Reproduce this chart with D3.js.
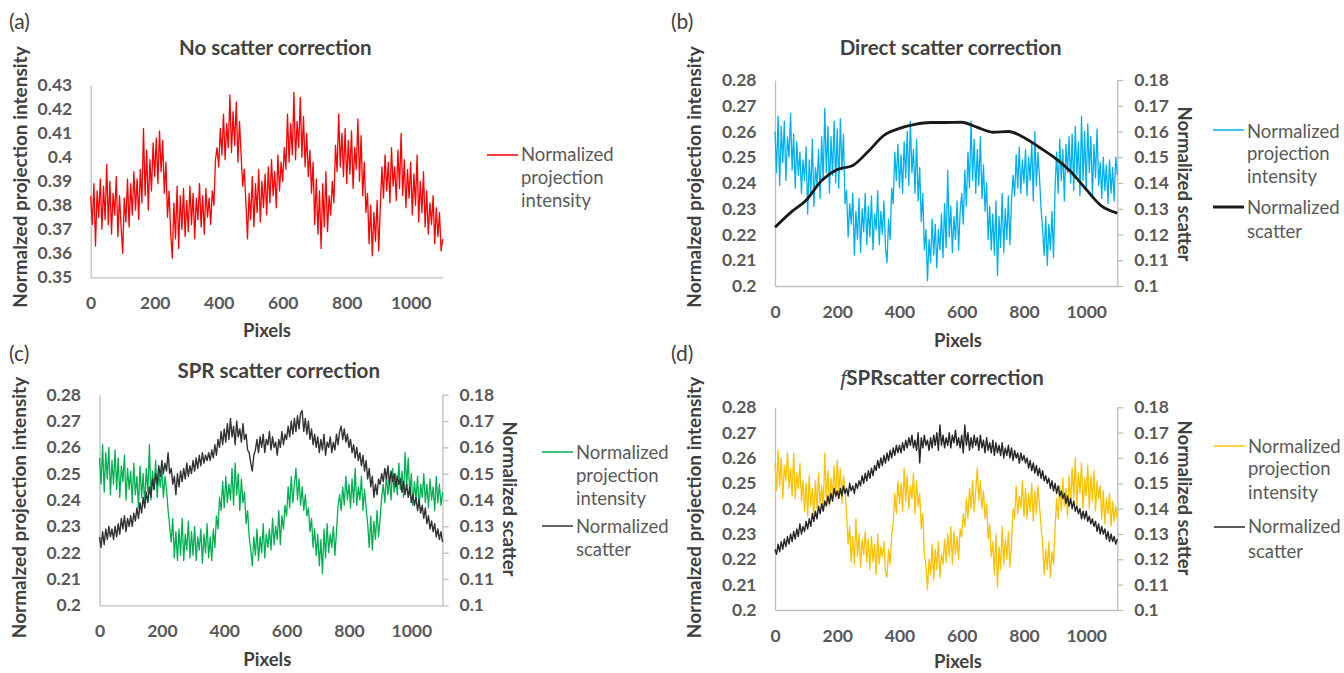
<!DOCTYPE html>
<html>
<head>
<meta charset="utf-8">
<script src="https://cdn.jsdelivr.net/npm/d3@7"></script>
<style>
	body { margin: 0; background: #fff; }
	svg text { font-family: Lato, 'Open Sans', sans-serif; }
</style>
</head>
<body>
<div id="chart"></div>
<script>
// sample positions along the detector (every 5 pixels)
var pixel_index = d3.range(0, 1101, 5);
var pixel_ticks = [0, 200, 400, 600, 800, 1000];
var intensity_ticks_a = [0.35, 0.36, 0.37, 0.38, 0.39, 0.40, 0.41, 0.42, 0.43];
var intensity_ticks = [0.20, 0.21, 0.22, 0.23, 0.24, 0.25, 0.26, 0.27, 0.28];
var scatter_ticks = [0.10, 0.11, 0.12, 0.13, 0.14, 0.15, 0.16, 0.17, 0.18];

// (a) no scatter correction
var no_corr_intensity = [
	0.384, 0.372, 0.389, 0.363, 0.386, 0.375, 0.391, 0.370, 0.388, 0.374,
	0.397, 0.372, 0.390, 0.368, 0.385, 0.376, 0.392, 0.367, 0.384, 0.371,
	0.360, 0.383, 0.373, 0.391, 0.371, 0.389, 0.376, 0.394, 0.378, 0.391,
	0.374, 0.395, 0.381, 0.412, 0.384, 0.403, 0.378, 0.399, 0.386, 0.406,
	0.392, 0.408, 0.389, 0.411, 0.394, 0.407, 0.385, 0.398, 0.375, 0.386,
	0.368, 0.358, 0.381, 0.366, 0.388, 0.362, 0.384, 0.370, 0.387, 0.367,
	0.382, 0.369, 0.388, 0.372, 0.385, 0.366, 0.383, 0.374, 0.389, 0.371,
	0.384, 0.368, 0.387, 0.375, 0.383, 0.372, 0.386, 0.380, 0.399, 0.404,
	0.396, 0.412, 0.401, 0.418, 0.399, 0.414, 0.404, 0.426, 0.402, 0.419,
	0.405, 0.423, 0.398, 0.415, 0.401, 0.388, 0.395, 0.381, 0.366, 0.385,
	0.374, 0.392, 0.371, 0.389, 0.377, 0.395, 0.373, 0.390, 0.379, 0.393,
	0.376, 0.396, 0.381, 0.399, 0.384, 0.394, 0.379, 0.401, 0.386, 0.398,
	0.390, 0.404, 0.395, 0.418, 0.398, 0.414, 0.401, 0.427, 0.399, 0.415,
	0.404, 0.425, 0.400, 0.417, 0.396, 0.410, 0.392, 0.403, 0.385, 0.398,
	0.372, 0.391, 0.368, 0.386, 0.362, 0.389, 0.371, 0.394, 0.369, 0.384,
	0.376, 0.390, 0.381, 0.405, 0.394, 0.418, 0.396, 0.410, 0.392, 0.412,
	0.389, 0.407, 0.393, 0.411, 0.387, 0.404, 0.395, 0.416, 0.390, 0.409,
	0.384, 0.398, 0.377, 0.385, 0.364, 0.380, 0.359, 0.377, 0.365, 0.382,
	0.361, 0.379, 0.396, 0.383, 0.401, 0.386, 0.398, 0.381, 0.404, 0.388,
	0.396, 0.382, 0.403, 0.387, 0.410, 0.384, 0.399, 0.379, 0.395, 0.383,
	0.398, 0.376, 0.393, 0.380, 0.401, 0.373, 0.390, 0.377, 0.394, 0.371,
	0.386, 0.368, 0.381, 0.372, 0.384, 0.364, 0.379, 0.367, 0.377, 0.361,
	0.366
];

// (b) direct scatter correction
var direct_intensity = [
	0.260, 0.244, 0.266, 0.239, 0.262, 0.248, 0.264, 0.241, 0.258, 0.250,
	0.267, 0.245, 0.259, 0.238, 0.256, 0.243, 0.252, 0.236, 0.249, 0.241,
	0.254, 0.228, 0.249, 0.236, 0.257, 0.231, 0.246, 0.239, 0.253, 0.234,
	0.258, 0.241, 0.269, 0.244, 0.262, 0.236, 0.258, 0.243, 0.264, 0.240,
	0.261, 0.238, 0.265, 0.245, 0.259, 0.232, 0.237, 0.219, 0.232, 0.224,
	0.236, 0.212, 0.229, 0.218, 0.234, 0.213, 0.230, 0.221, 0.236, 0.216,
	0.231, 0.219, 0.235, 0.214, 0.228, 0.222, 0.237, 0.216, 0.229, 0.220,
	0.233, 0.215, 0.209, 0.226, 0.218, 0.238, 0.232, 0.252, 0.241, 0.255,
	0.238, 0.251, 0.236, 0.256, 0.242, 0.260, 0.239, 0.264, 0.244, 0.253,
	0.236, 0.257, 0.233, 0.246, 0.225, 0.236, 0.214, 0.222, 0.202, 0.218,
	0.209, 0.226, 0.212, 0.224, 0.207, 0.222, 0.214, 0.228, 0.211, 0.232,
	0.215, 0.245, 0.219, 0.231, 0.213, 0.227, 0.218, 0.233, 0.214, 0.229,
	0.236, 0.224, 0.245, 0.231, 0.252, 0.238, 0.264, 0.241, 0.257, 0.236,
	0.253, 0.239, 0.258, 0.234, 0.247, 0.229, 0.240, 0.218, 0.231, 0.214,
	0.228, 0.212, 0.233, 0.204, 0.227, 0.215, 0.236, 0.213, 0.230, 0.218,
	0.235, 0.216, 0.233, 0.243, 0.235, 0.251, 0.238, 0.254, 0.236, 0.249,
	0.240, 0.253, 0.235, 0.250, 0.241, 0.256, 0.233, 0.260, 0.239, 0.252,
	0.242, 0.230, 0.222, 0.212, 0.227, 0.208, 0.224, 0.214, 0.229, 0.211,
	0.238, 0.252, 0.236, 0.257, 0.241, 0.253, 0.233, 0.255, 0.244, 0.258,
	0.240, 0.259, 0.237, 0.262, 0.243, 0.256, 0.235, 0.266, 0.241, 0.260,
	0.237, 0.263, 0.244, 0.258, 0.235, 0.255, 0.242, 0.261, 0.239, 0.248,
	0.234, 0.250, 0.237, 0.247, 0.232, 0.249, 0.236, 0.246, 0.233, 0.250,
	0.243
];
var direct_scatter_pixels = [0, 50, 100, 150, 200, 250, 300, 350, 400, 450, 500, 550,
	600, 650, 700, 750, 800, 850, 900, 950, 1000, 1050, 1100];
var direct_scatter = [0.1228, 0.1285, 0.1333, 0.1410, 0.1452, 0.1468, 0.1523, 0.1585,
	0.1612, 0.1628, 0.1635, 0.1635, 0.1636, 0.1616, 0.1597, 0.1600, 0.1577, 0.1538,
	0.1497, 0.1445, 0.1375, 0.1310, 0.1283];

// (c) SPR scatter correction
var spr_intensity = [
	0.256, 0.246, 0.261, 0.243, 0.258, 0.248, 0.260, 0.242, 0.255, 0.246,
	0.259, 0.244, 0.256, 0.241, 0.253, 0.247, 0.257, 0.240, 0.252, 0.244,
	0.251, 0.239, 0.254, 0.242, 0.249, 0.237, 0.253, 0.241, 0.250, 0.238,
	0.252, 0.243, 0.261, 0.240, 0.251, 0.244, 0.255, 0.241, 0.250, 0.245,
	0.252, 0.241, 0.249, 0.244, 0.236, 0.230, 0.224, 0.233, 0.218, 0.228,
	0.217, 0.229, 0.219, 0.233, 0.217, 0.227, 0.221, 0.232, 0.218, 0.228,
	0.219, 0.230, 0.217, 0.226, 0.221, 0.229, 0.216, 0.227, 0.220, 0.231,
	0.218, 0.226, 0.217, 0.229, 0.222, 0.234, 0.229, 0.241, 0.236, 0.247,
	0.237, 0.249, 0.239, 0.246, 0.240, 0.252, 0.238, 0.254, 0.242, 0.250,
	0.236, 0.248, 0.239, 0.243, 0.231, 0.236, 0.226, 0.221, 0.215, 0.226,
	0.219, 0.229, 0.217, 0.226, 0.220, 0.231, 0.218, 0.227, 0.222, 0.229,
	0.221, 0.233, 0.223, 0.230, 0.225, 0.236, 0.223, 0.234, 0.229, 0.238,
	0.234, 0.245, 0.237, 0.249, 0.239, 0.246, 0.252, 0.240, 0.248, 0.238,
	0.245, 0.236, 0.242, 0.234, 0.237, 0.228, 0.233, 0.222, 0.229, 0.219,
	0.227, 0.215, 0.225, 0.212, 0.229, 0.218, 0.231, 0.220, 0.227, 0.222,
	0.230, 0.219, 0.228, 0.238, 0.242, 0.236, 0.245, 0.238, 0.249, 0.240,
	0.246, 0.237, 0.248, 0.239, 0.252, 0.238, 0.245, 0.240, 0.249, 0.236,
	0.244, 0.237, 0.231, 0.222, 0.234, 0.221, 0.232, 0.225, 0.236, 0.226,
	0.233, 0.241, 0.246, 0.239, 0.250, 0.242, 0.248, 0.240, 0.252, 0.243,
	0.250, 0.242, 0.254, 0.244, 0.251, 0.241, 0.258, 0.245, 0.256, 0.242,
	0.250, 0.238, 0.247, 0.240, 0.249, 0.237, 0.246, 0.241, 0.250, 0.239,
	0.246, 0.237, 0.248, 0.240, 0.245, 0.236, 0.249, 0.239, 0.246, 0.238,
	0.243
];
var spr_scatter = [
	0.126, 0.122, 0.128, 0.123, 0.129, 0.125, 0.130, 0.126, 0.129, 0.125,
	0.130, 0.126, 0.131, 0.127, 0.133, 0.129, 0.134, 0.128, 0.133, 0.130,
	0.134, 0.130, 0.135, 0.132, 0.137, 0.133, 0.139, 0.135, 0.141, 0.137,
	0.143, 0.139, 0.145, 0.141, 0.148, 0.144, 0.150, 0.146, 0.153, 0.149,
	0.155, 0.150, 0.154, 0.151, 0.158, 0.150, 0.152, 0.146, 0.149, 0.142,
	0.150, 0.145, 0.151, 0.147, 0.152, 0.148, 0.154, 0.149, 0.153, 0.150,
	0.155, 0.151, 0.156, 0.152, 0.157, 0.153, 0.158, 0.154, 0.157, 0.155,
	0.158, 0.155, 0.159, 0.156, 0.161, 0.157, 0.163, 0.160, 0.166, 0.161,
	0.167, 0.162, 0.169, 0.163, 0.171, 0.164, 0.168, 0.161, 0.170, 0.164,
	0.167, 0.162, 0.169, 0.163, 0.165, 0.159, 0.158, 0.154, 0.151, 0.157,
	0.159, 0.163, 0.158, 0.164, 0.160, 0.165, 0.158, 0.163, 0.161, 0.166,
	0.159, 0.164, 0.160, 0.162, 0.157, 0.163, 0.160, 0.166, 0.161, 0.165,
	0.163, 0.168, 0.164, 0.170, 0.165, 0.171, 0.166, 0.172, 0.167, 0.173,
	0.174, 0.166, 0.171, 0.165, 0.170, 0.163, 0.167, 0.161, 0.165, 0.160,
	0.164, 0.158, 0.163, 0.159, 0.165, 0.157, 0.162, 0.160, 0.164, 0.158,
	0.162, 0.159, 0.165, 0.161, 0.166, 0.168, 0.163, 0.167, 0.162, 0.165,
	0.160, 0.163, 0.158, 0.161, 0.156, 0.160, 0.155, 0.158, 0.153, 0.157,
	0.151, 0.155, 0.148, 0.152, 0.145, 0.149, 0.141, 0.146, 0.142, 0.148,
	0.146, 0.150, 0.147, 0.152, 0.148, 0.153, 0.146, 0.151, 0.147, 0.150,
	0.145, 0.149, 0.146, 0.148, 0.143, 0.147, 0.142, 0.146, 0.141, 0.145,
	0.139, 0.142, 0.138, 0.141, 0.136, 0.140, 0.135, 0.138, 0.133, 0.137,
	0.131, 0.134, 0.129, 0.132, 0.128, 0.131, 0.126, 0.129, 0.125, 0.128,
	0.124
];

// (d) fSPR scatter correction
var fspr_intensity = [
	0.258, 0.247, 0.263, 0.249, 0.260, 0.244, 0.257, 0.251, 0.262, 0.248,
	0.256, 0.245, 0.262, 0.244, 0.254, 0.248, 0.258, 0.243, 0.251, 0.239,
	0.250, 0.237, 0.253, 0.241, 0.248, 0.236, 0.251, 0.240, 0.254, 0.242,
	0.249, 0.240, 0.262, 0.243, 0.255, 0.241, 0.252, 0.245, 0.257, 0.244,
	0.259, 0.246, 0.256, 0.242, 0.253, 0.248, 0.238, 0.226, 0.233, 0.219,
	0.229, 0.218, 0.236, 0.221, 0.230, 0.217, 0.228, 0.222, 0.231, 0.219,
	0.228, 0.216, 0.229, 0.219, 0.226, 0.214, 0.230, 0.218, 0.225, 0.221,
	0.227, 0.215, 0.213, 0.224, 0.218, 0.229, 0.235, 0.246, 0.238, 0.251,
	0.242, 0.250, 0.239, 0.256, 0.243, 0.253, 0.240, 0.249, 0.244, 0.254,
	0.238, 0.251, 0.241, 0.246, 0.232, 0.238, 0.222, 0.218, 0.208, 0.220,
	0.214, 0.226, 0.212, 0.224, 0.216, 0.227, 0.213, 0.222, 0.218, 0.228,
	0.219, 0.230, 0.221, 0.233, 0.218, 0.231, 0.222, 0.229, 0.220, 0.232,
	0.229, 0.238, 0.233, 0.244, 0.236, 0.248, 0.240, 0.251, 0.239, 0.247,
	0.256, 0.243, 0.251, 0.240, 0.247, 0.236, 0.242, 0.228, 0.234, 0.221,
	0.227, 0.214, 0.230, 0.209, 0.225, 0.216, 0.233, 0.218, 0.228, 0.220,
	0.231, 0.217, 0.226, 0.240, 0.236, 0.249, 0.238, 0.245, 0.240, 0.251,
	0.237, 0.248, 0.236, 0.246, 0.239, 0.250, 0.235, 0.247, 0.238, 0.249,
	0.241, 0.233, 0.226, 0.214, 0.224, 0.216, 0.227, 0.213, 0.223, 0.218,
	0.232, 0.244, 0.236, 0.249, 0.239, 0.252, 0.241, 0.248, 0.237, 0.253,
	0.242, 0.256, 0.244, 0.260, 0.241, 0.254, 0.246, 0.258, 0.240, 0.252,
	0.245, 0.257, 0.240, 0.253, 0.243, 0.255, 0.239, 0.251, 0.244, 0.249,
	0.236, 0.247, 0.234, 0.244, 0.238, 0.246, 0.233, 0.243, 0.235, 0.241,
	0.236
];
var fspr_scatter = [
	0.124, 0.122, 0.126, 0.123, 0.127, 0.124, 0.128, 0.125, 0.129, 0.126,
	0.130, 0.127, 0.131, 0.128, 0.132, 0.129, 0.134, 0.130, 0.133, 0.131,
	0.135, 0.132, 0.136, 0.133, 0.138, 0.135, 0.139, 0.136, 0.141, 0.138,
	0.142, 0.139, 0.143, 0.141, 0.145, 0.142, 0.146, 0.143, 0.148, 0.145,
	0.147, 0.144, 0.148, 0.145, 0.149, 0.146, 0.148, 0.145, 0.150, 0.147,
	0.149, 0.146, 0.150, 0.148, 0.151, 0.149, 0.153, 0.150, 0.154, 0.151,
	0.155, 0.152, 0.156, 0.153, 0.157, 0.155, 0.159, 0.156, 0.160, 0.157,
	0.161, 0.158, 0.162, 0.159, 0.163, 0.160, 0.164, 0.161, 0.165, 0.162,
	0.165, 0.162, 0.166, 0.163, 0.167, 0.164, 0.168, 0.165, 0.169, 0.164,
	0.167, 0.163, 0.170, 0.158, 0.168, 0.164, 0.169, 0.165, 0.167, 0.163,
	0.168, 0.164, 0.169, 0.165, 0.170, 0.163, 0.173, 0.165, 0.169, 0.164,
	0.168, 0.165, 0.170, 0.164, 0.169, 0.166, 0.171, 0.165, 0.168, 0.164,
	0.169, 0.162, 0.173, 0.165, 0.170, 0.163, 0.168, 0.164, 0.169, 0.165,
	0.168, 0.163, 0.169, 0.164, 0.167, 0.162, 0.168, 0.163, 0.166, 0.162,
	0.167, 0.161, 0.166, 0.162, 0.165, 0.161, 0.166, 0.160, 0.164, 0.161,
	0.165, 0.160, 0.164, 0.159, 0.163, 0.160, 0.162, 0.158, 0.162, 0.159,
	0.161, 0.158, 0.160, 0.156, 0.159, 0.155, 0.158, 0.154, 0.157, 0.153,
	0.156, 0.152, 0.155, 0.151, 0.153, 0.150, 0.152, 0.148, 0.151, 0.147,
	0.150, 0.146, 0.149, 0.145, 0.147, 0.144, 0.146, 0.142, 0.145, 0.141,
	0.144, 0.140, 0.143, 0.139, 0.141, 0.138, 0.140, 0.136, 0.139, 0.136,
	0.139, 0.135, 0.137, 0.134, 0.136, 0.133, 0.135, 0.131, 0.134, 0.130,
	0.133, 0.130, 0.132, 0.128, 0.131, 0.127, 0.130, 0.127, 0.129, 0.126,
	0.128
];

var axis_grey = '#bfbfbf';
var tick_grey = '#595959';
var title_grey = '#404040';
var fmt = d => String(+d.toFixed(2));

var svg = d3.select('#chart')
	.append('svg')
	.attr('width', 1344)
	.attr('height', 673);


/**
 * Styles an axis group the Excel way
 * @param {object} g - d3 selection of the axis group
 * @return {void} Nothing
 */
function style_axis(g) {
	g.select('.domain').attr('stroke', axis_grey).attr('stroke-width', 1.3);
	g.selectAll('.tick line').attr('stroke', axis_grey).attr('stroke-width', 1.3);
	g.selectAll('.tick text')
		.style('font-family', 'Lato, sans-serif')
		.style('font-weight', 'bold')
		.style('font-size', '17.5px')
		.attr('fill', tick_grey);
}


/**
 * Draws one of the four panels
 * @param {object} p - layout and series of the panel
 * @return {void} Nothing
 */
function draw_panel(p) {
	var x = d3.scaleLinear().domain([0, 1100]).range([p.left, p.right]);
	var y = d3.scaleLinear().domain(p.left_domain).range([p.bottom, p.top]);

	// left axis
	var left_axis = svg.append('g')
		.attr('transform', 'translate(' + p.left + ',0)')
		.call(d3.axisLeft(y).tickValues(p.left_ticks).tickSize(0).tickPadding(18.5).tickFormat(fmt));
	style_axis(left_axis);

	// bottom axis
	var bottom_axis = svg.append('g')
		.attr('transform', 'translate(0,' + p.bottom + ')')
		.call(d3.axisBottom(x).tickValues(pixel_ticks).tickSize(0).tickPadding(19.5).tickFormat(d3.format('d')));
	style_axis(bottom_axis);

	var yr = null;
	if (p.right_domain) {
		yr = d3.scaleLinear().domain(p.right_domain).range([p.bottom, p.top]);
		var right_axis = svg.append('g')
			.attr('transform', 'translate(' + p.right + ',0)')
			.call(d3.axisRight(yr).tickValues(scatter_ticks).tickSizeInner(6).tickSizeOuter(0).tickPadding(11).tickFormat(fmt));
		style_axis(right_axis);
	}

	// intensity line
	svg.append('path')
		.datum(p.intensity)
		.attr('fill', 'none')
		.attr('stroke', p.color)
		.attr('stroke-width', 1.3)
		.attr('stroke-linejoin', 'round')
		.attr('d', d3.line().x((d, i) => x(pixel_index[i])).y(d => y(d)));

	// scatter line
	if (p.scatter) {
		var sx = p.scatter_pixels || pixel_index;
		var line = d3.line().x((d, i) => x(sx[i])).y(d => yr(d));
		if (p.smooth) line.curve(d3.curveMonotoneX);
		svg.append('path')
			.datum(p.scatter)
			.attr('fill', 'none')
			.attr('stroke', p.scatter_color)
			.attr('stroke-width', p.scatter_width)
			.attr('stroke-linejoin', 'round')
			.attr('d', line);
	}

	// panel letter
	svg.append('text')
		.attr('x', p.letter[0])
		.attr('y', p.letter[1])
		.text(p.letter[2])
		.style('font-size', '21px')
		.attr('fill', title_grey);

	// title
	var title = svg.append('text')
		.attr('x', p.title_pos[0])
		.attr('y', p.title_pos[1])
		.attr('text-anchor', 'middle')
		.style('font-size', '20.5px')
		.style('font-weight', 'bold')
		.attr('fill', title_grey);
	if (p.title_italic) {
		title.append('tspan')
			.text(p.title_italic)
			.style('font-family', "'Liberation Serif', serif")
			.style('font-style', 'italic')
			.style('font-weight', 'normal')
			.style('font-size', '22px');
	}
	title.append('tspan').text(p.title);

	// x axis label
	svg.append('text')
		.attr('x', p.pixels_pos[0])
		.attr('y', p.pixels_pos[1])
		.attr('text-anchor', 'middle')
		.text('Pixels')
		.style('font-size', '18.5px')
		.style('font-weight', 'bold')
		.attr('fill', title_grey);

	// y axis label
	svg.append('text')
		.attr('transform', 'translate(' + p.ylabel_pos[0] + ',' + p.ylabel_pos[1] + ') rotate(-90)')
		.attr('text-anchor', 'middle')
		.text('Normalzed projection intensity')
		.style('font-size', '19px')
		.style('font-weight', 'bold')
		.attr('fill', title_grey);

	if (p.right_domain) {
		svg.append('text')
			.attr('transform', 'translate(' + p.rlabel_pos[0] + ',' + p.rlabel_pos[1] + ') rotate(90)')
			.attr('text-anchor', 'middle')
			.text('Normalized scatter')
			.style('font-size', '18.5px')
			.style('font-weight', 'bold')
			.attr('fill', title_grey);
	}

	// legend
	var lg = p.legend;
	svg.append('line')
		.attr('x1', lg.x).attr('x2', lg.x + 31)
		.attr('y1', lg.y1).attr('y2', lg.y1)
		.attr('stroke', p.color)
		.attr('stroke-width', 1.5);
	var labels = ['Normalized', 'projection', 'intensity'];
	labels.forEach(function(t, i) {
		svg.append('text')
			.attr('x', lg.x + 34)
			.attr('y', lg.rows1[i] + 6)
			.text(t)
			.style('font-size', '18.5px')
			.attr('fill', tick_grey);
	});
	if (p.scatter) {
		svg.append('line')
			.attr('x1', lg.x).attr('x2', lg.x + 31)
			.attr('y1', lg.y2).attr('y2', lg.y2)
			.attr('stroke', p.scatter_color)
			.attr('stroke-width', p.smooth ? 3 : 1.5);
		['Normalized', 'scatter'].forEach(function(t, i) {
			svg.append('text')
				.attr('x', lg.x + 34)
				.attr('y', lg.rows2[i] + 6)
				.text(t)
				.style('font-size', '18.5px')
				.attr('fill', tick_grey);
		});
	}
}


draw_panel({
	left: 90.7, right: 442.7, top: 85.3, bottom: 277.3,
	left_domain: [0.35, 0.43], left_ticks: intensity_ticks_a,
	intensity: no_corr_intensity, color: '#ff0000',
	letter: [9, 29, '(a)'],
	title: 'No scatter correction', title_pos: [275.3, 55],
	pixels_pos: [267, 336.5],
	ylabel_pos: [27, 177],
	legend: {x: 487, y1: 155, rows1: [155, 178, 201]}
});

draw_panel({
	left: 775, right: 1117.3, top: 80, bottom: 286,
	left_domain: [0.2, 0.28], left_ticks: intensity_ticks,
	right_domain: [0.1, 0.18],
	intensity: direct_intensity, color: '#00b0f0',
	scatter: direct_scatter, scatter_pixels: direct_scatter_pixels,
	scatter_color: '#1a1a1a', scatter_width: 2.8, smooth: true,
	letter: [671, 29, '(b)'],
	title: 'Direct scatter correction', title_pos: [950.6, 55],
	pixels_pos: [958, 346.5],
	ylabel_pos: [701, 177],
	rlabel_pos: [1177.5, 184],
	legend: {x: 1213, y1: 130, rows1: [132, 154, 177], y2: 207, rows2: [208, 232]}
});

draw_panel({
	left: 99.5, right: 442.5, top: 394.7, bottom: 605.3,
	left_domain: [0.2, 0.28], left_ticks: intensity_ticks,
	right_domain: [0.1, 0.18],
	intensity: spr_intensity, color: '#00b050',
	scatter: spr_scatter, scatter_color: '#333333', scatter_width: 1.4,
	letter: [9, 361, '(c)'],
	title: 'SPR scatter correction', title_pos: [278.7, 378],
	pixels_pos: [267.3, 666],
	ylabel_pos: [26, 507.5],
	rlabel_pos: [502.5, 499],
	legend: {x: 542, y1: 452, rows1: [453, 476, 499], y2: 526, rows2: [527, 550]}
});

draw_panel({
	left: 775, right: 1117.3, top: 407.3, bottom: 610,
	left_domain: [0.2, 0.28], left_ticks: intensity_ticks,
	right_domain: [0.1, 0.18],
	intensity: fspr_intensity, color: '#ffc000',
	scatter: fspr_scatter, scatter_color: '#262626', scatter_width: 1.4,
	letter: [671, 361, '(d)'],
	title: 'SPRscatter correction', title_italic: 'f', title_pos: [942, 385],
	pixels_pos: [958, 668],
	ylabel_pos: [701, 507.5],
	rlabel_pos: [1177.5, 498],
	legend: {x: 1214, y1: 446, rows1: [447, 469, 493], y2: 527, rows2: [527, 552]}
});
</script>
</body>
</html>
